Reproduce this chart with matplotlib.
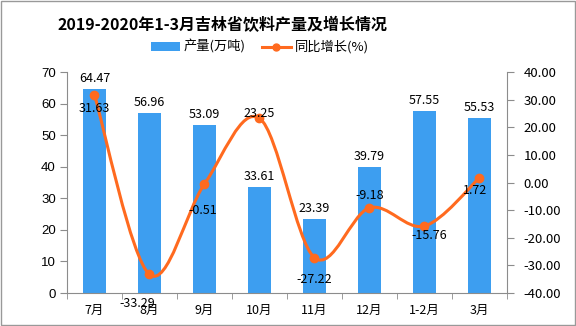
import matplotlib
matplotlib.use("Agg")
import matplotlib.pyplot as plt
from matplotlib.path import Path
from matplotlib.patches import PathPatch, Rectangle, Patch
from matplotlib.lines import Line2D
import numpy as np

plt.rcParams['font.family'] = ['Noto Sans CJK SC', 'DejaVu Sans']

categories = ["7月", "8月", "9月", "10月", "11月", "12月", "1-2月", "3月"]
output = [64.47, 56.96, 53.09, 33.61, 23.39, 39.79, 57.55, 55.53]
growth = [31.63, -33.29, -0.51, 23.25, -27.22, -9.18, -15.76, 1.72]
left_ticks = [0, 10, 20, 30, 40, 50, 60, 70]
right_ticks = [-40, -30, -20, -10, 0, 10, 20, 30, 40]
title = "2019-2020年1-3月吉林省饮料产量及增长情况"
bar_name = "产量(万吨)"
line_name = "同比增长(%)"

# label offsets (pixels) for growth labels
growth_label_offsets = [(0, -13), (-12, -29), (-2, -27), (0, 5), (0, -22), (0, 12), (5, -9), (-4, -13)]

bar_color = "#3D9EF0"
line_color = "#FF6A1F"
spine_color = "#8C8C8C"

fig = plt.figure(figsize=(5.76, 3.26), dpi=100)
ax = fig.add_axes([67/576, 1-293/326, 440/576, 221/326])
ax2 = ax.twinx()

x = np.arange(len(categories))
ax.bar(x, output, width=0.42, color=bar_color, zorder=2)
ax.set_xlim(-0.5, len(categories) - 0.5)
ax.set_ylim(0, 70)
ax.set_yticks(left_ticks)
ax.set_yticklabels([str(t) for t in left_ticks], family='Liberation Sans', fontsize=9.5)
ax.set_xticks(x)
ax.set_xticklabels(categories, fontsize=9)
ax.set_xticks(np.arange(len(categories) + 1) - 0.5, minor=True)
ax.tick_params(axis='x', which='major', length=0, pad=8)
ax.tick_params(axis='x', which='minor', length=4, color=spine_color, direction='out')
ax.tick_params(axis='y', length=5, color=spine_color, direction='out', pad=3)

for s in ['top', 'right']:
    ax.spines[s].set_visible(False)
for s in ['left', 'bottom']:
    ax.spines[s].set_color(spine_color)

for xi, v in zip(x, output):
    ax.annotate(f"{v:.2f}", (xi, v), xytext=(0, 4), textcoords='offset pixels',
                ha='center', va='bottom', fontsize=9, zorder=3)

# smooth line through points (Catmull-Rom -> cubic Bezier)
ax2.set_ylim(-40, 40)
ax2.set_yticks(right_ticks)
ax2.set_yticklabels([f"{t:.2f}" for t in right_ticks], fontsize=9.5)
ax2.tick_params(axis='y', length=5, color=spine_color, direction='out', pad=7)
for s in ['top', 'left', 'bottom']:
    ax2.spines[s].set_visible(False)
ax2.spines['right'].set_color(spine_color)

pts = np.column_stack([x.astype(float), np.array(growth, dtype=float)])
verts = [tuple(pts[0])]
codes = [Path.MOVETO]
t = 0.5
n = len(pts)
for i in range(n - 1):
    p0 = pts[i - 1] if i > 0 else pts[i]
    p1 = pts[i]
    p2 = pts[i + 1]
    p3 = pts[i + 2] if i + 2 < n else pts[i + 1]
    c1 = p1 + (p2 - p0) * t / 3
    c2 = p2 - (p3 - p1) * t / 3
    verts += [tuple(c1), tuple(c2), tuple(p2)]
    codes += [Path.CURVE4] * 3
patch = PathPatch(Path(verts, codes), facecolor='none', edgecolor=line_color, lw=2.2, zorder=4)
ax2.add_patch(patch)
ax2.plot(x, growth, 'o', color=line_color, markersize=6, zorder=5)

for xi, v, off in zip(x, growth, growth_label_offsets):
    ax2.annotate(f"{v:.2f}", (xi, v), xytext=off, textcoords='offset pixels',
                 ha='center', va='center', fontsize=9, zorder=6)

fig.text(222/576, 1-25/326, title, ha='center', va='center', fontsize=11.5, fontweight='bold')

handles = [Patch(facecolor=bar_color, edgecolor='none'),
           Line2D([0], [0], color=line_color, lw=2.2, marker='o', markersize=5)]
fig.legend(handles, [bar_name, line_name], loc='center', bbox_to_anchor=(260/576, 1-47/326),
           ncol=2, frameon=False, fontsize=9.5, handlelength=2.2, handleheight=0.6,
           columnspacing=1.2, handletextpad=0.3)

fig.add_artist(Rectangle((0.001, 0.003), 0.997, 0.995, transform=fig.transFigure,
                         fill=False, edgecolor='#999999', lw=1))

fig.savefig("out.png", dpi=100)
